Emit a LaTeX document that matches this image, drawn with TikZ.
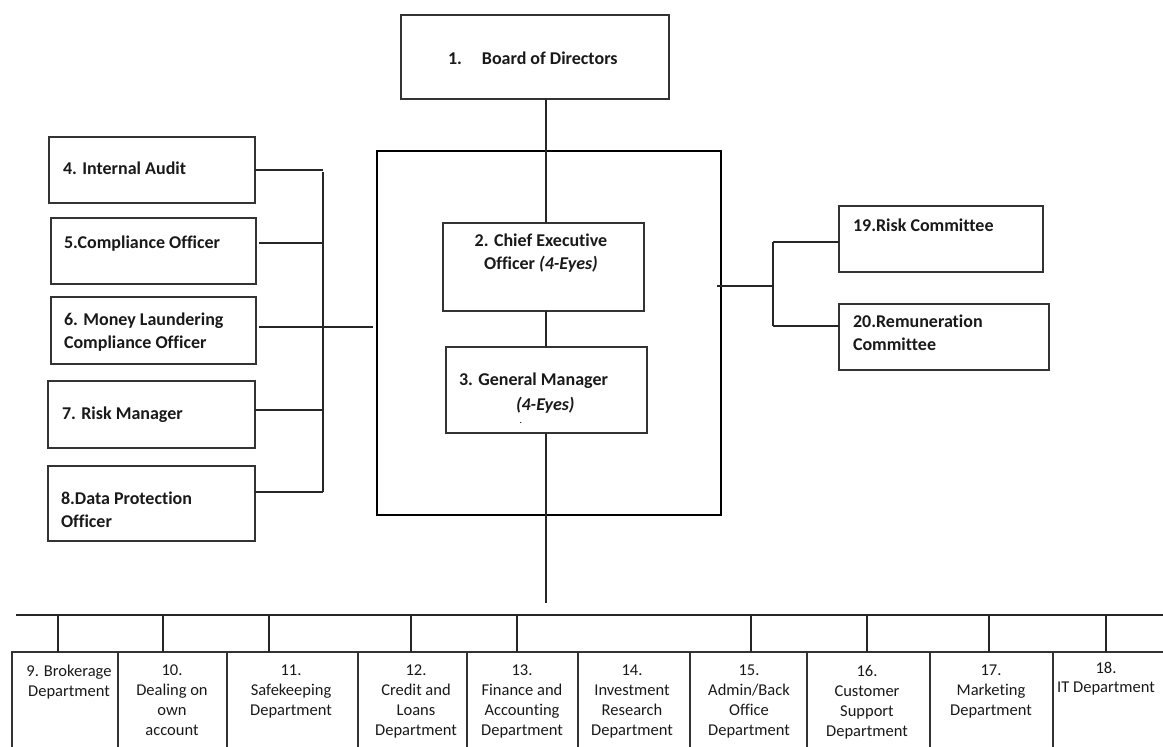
\documentclass[tikz,border=0pt]{standalone}
\usepackage{fontspec}
\setmainfont{Carlito}[Ligatures=NoCommon]
\begin{document}
\begin{tikzpicture}[x=1pt,y=-1pt,
  ink/.style={draw=black!80},
  box/.style={ink, line width=1.4pt, inner sep=0pt, outer sep=0pt, rectangle},
  bigbox/.style={draw=black, line width=2.6pt, inner sep=0pt, outer sep=0pt, rectangle},
  conn/.style={draw=black!85, line width=1.3pt},
  btxt/.style={inner sep=0pt, outer sep=0pt, font=\fontsize{18}{23}\selectfont\bfseries, text=black!90},
  dtxt/.style={inner sep=0pt, outer sep=0pt, font=\fontsize{16.5}{20}\selectfont, align=center, anchor=north, text=black!90}
]
\useasboundingbox (0,0) rectangle (1163,747);
\clip (0,0) rectangle (1163,747);

% top boxes
\node[box, minimum width=268pt, minimum height=84pt] (board) at (535,57) {};
\node[bigbox, minimum width=344pt, minimum height=364pt] (big) at (549,333) {};
\node[box, minimum width=201pt, minimum height=88pt] (ceo) at (543.5,267) {};
\node[box, minimum width=201pt, minimum height=86pt] (gm) at (546.5,390) {};

\node[btxt, anchor=north west] (tboard) at (448,52) {1.\hspace{20pt}Board of Directors};
\node[btxt, anchor=north, align=center] (tceo) at (541,234) {2. Chief Executive\\Officer \textit{(4-Eyes)}};
\node[btxt, anchor=north west, align=left] (tgm) at (459,373) {3. General Manager\\[2pt]\hspace*{57pt}\textit{(4-Eyes)}};
\node[inner sep=0pt, font=\fontsize{10}{12}\selectfont] (dot) at (521,423) {.};

% left boxes
\node[box, minimum width=206pt, minimum height=66pt] (b4) at (152,170) {};
\node[box, minimum width=205pt, minimum height=66pt] (b5) at (153.5,251) {};
\node[box, minimum width=205pt, minimum height=67pt] (b6) at (153.5,330.5) {};
\node[box, minimum width=207pt, minimum height=67pt] (b7) at (151.5,414.5) {};
\node[box, minimum width=207pt, minimum height=75pt] (b8) at (151.5,503.5) {};

\node[btxt, anchor=north west] (t4) at (63,162) {4. Internal Audit};
\node[btxt, anchor=north west] (t5) at (64,236) {5.Compliance Officer};
\node[btxt, anchor=north west, align=left] (t6) at (64,313) {6. Money Laundering\\Compliance Officer};
\node[btxt, anchor=north west] (t7) at (62,407) {7. Risk Manager};
\node[btxt, anchor=north west, align=left] (t8) at (61,492) {8.Data Protection\\Officer};

% right boxes
\node[box, minimum width=204pt, minimum height=66pt] (b19) at (941,239) {};
\node[box, minimum width=210pt, minimum height=66pt] (b20) at (944,337) {};
\node[btxt, anchor=north west] (t19) at (853,219) {19.Risk Committee};
\node[btxt, anchor=north west, align=left] (t20) at (853,315) {20.Remuneration\\Committee};

% bottom boxes
\node[box, minimum width=106pt, minimum height=148pt] (b9) at (65,726) {};
\node[box, minimum width=109pt, minimum height=148pt] (b10) at (172.5,726) {};
\node[box, minimum width=131pt, minimum height=148pt] (b11) at (292.5,726) {};
\node[box, minimum width=109pt, minimum height=148pt] (b12) at (412.5,726) {};
\node[box, minimum width=111pt, minimum height=148pt] (b13) at (522.5,726) {};
\node[box, minimum width=112pt, minimum height=148pt] (b14) at (634,726) {};
\node[box, minimum width=117pt, minimum height=148pt] (b15) at (748.5,726) {};
\node[box, minimum width=123pt, minimum height=148pt] (b16) at (868.5,726) {};
\node[box, minimum width=123pt, minimum height=148pt] (b17) at (991.5,726) {};
\node[box, minimum width=127pt, minimum height=148pt] (b18) at (1116.5,726) {};

\node[dtxt] (t9) at (69,665) {9. Brokerage\\Department};
\node[dtxt] (t10) at (172,665) {10.\\Dealing on\\own\\account};
\node[dtxt] (t11) at (291,665) {11.\\Safekeeping\\Department};
\node[dtxt] (t12) at (416,665) {12.\\Credit and\\Loans\\Department};
\node[dtxt] (t13) at (522,665) {13.\\Finance and\\Accounting\\Department};
\node[dtxt] (t14) at (632,665) {14.\\Investment\\Research\\Department};
\node[dtxt] (t15) at (749,665) {15.\\Admin/Back\\Office\\Department};
\node[dtxt] (t16) at (867,665) {16.\\Customer\\Support\\Department};
\node[dtxt] (t17) at (991,665) {17.\\Marketing\\Department};
\node[dtxt, font=\fontsize{16.5}{19}\selectfont] (t18) at (1106,662) {18.\\IT Department};

% spine
\coordinate (spine) at (546,0);
\draw[conn] (board.south -| spine) -- (ceo.north -| spine);
\draw[conn] (ceo.south -| spine) -- (gm.north -| spine);
\coordinate (gmEnd) at (546,603);
\draw[conn] (gm.south -| spine) -- (gmEnd);

% left bus
\coordinate (lbusT) at (323,172);
\coordinate (lbusB) at (323,492);
\draw[conn] (lbusT) -- (lbusB);
\draw[conn] (b4.east) -- (b4.east -| lbusT);
\coordinate (c5) at (259,243);
\draw[conn] (c5) -- (c5 -| lbusT);
\coordinate (c6) at (259,327);
\coordinate (c6e) at (373,327);
\draw[conn] (c6) -- (c6e);
\coordinate (c7) at (255,410);
\draw[conn] (c7) -- (c7 -| lbusT);
\coordinate (c8) at (255,492);
\draw[conn] (c8) -- (lbusB);

% right connectors
\coordinate (rs) at (717,286);
\coordinate (rbusT) at (773,242);
\coordinate (rbusB) at (773,326);
\draw[conn] (rs) -- (rs -| rbusT);
\draw[conn] (rbusT) -- (rbusB);
\draw[conn] (rbusT) -- (rbusT -| b19.west);
\draw[conn] (rbusB) -- (rbusB -| b20.west);

% bottom bus
\coordinate (busL) at (16,615);
\coordinate (busR) at (1163,615);
\draw[conn] (busL) -- (busR);
\foreach \b/\x in {b9/58,b10/163,b11/269,b12/411,b13/517,b15/751,b16/867,b17/989,b18/1106}{
  \coordinate (d\b) at (\x,615);
  \draw[conn] (d\b) -- (d\b |- \b.north);
}
\end{tikzpicture}
\end{document}
